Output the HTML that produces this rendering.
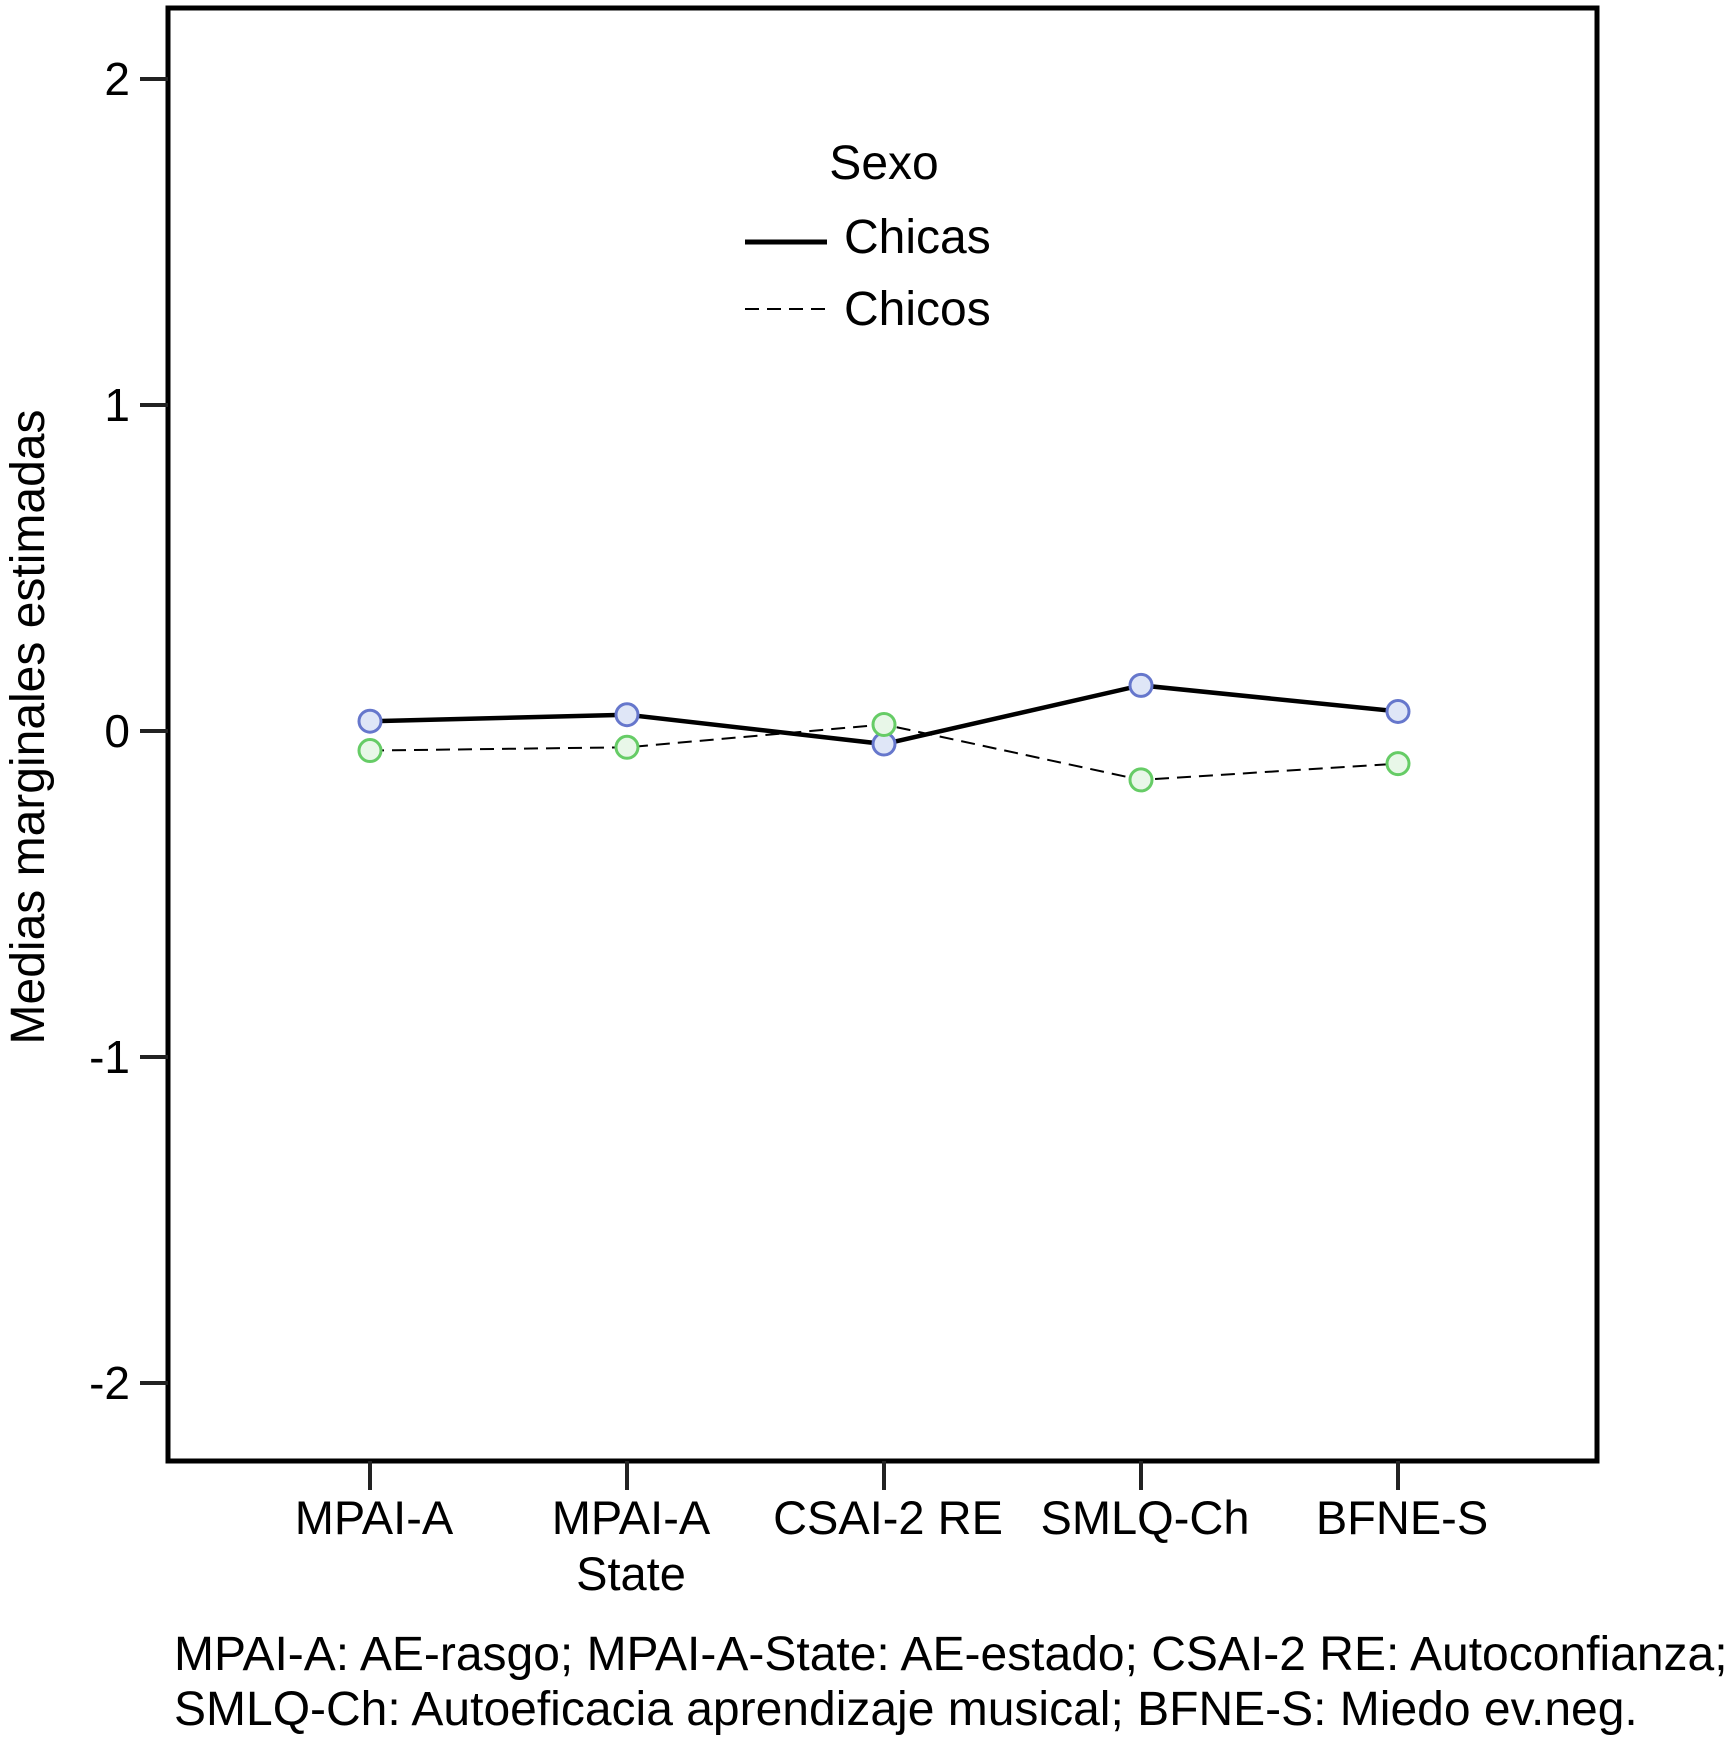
<!DOCTYPE html>
<html><head><meta charset="utf-8"><style>
html,body{margin:0;padding:0;background:#fff}
svg{display:block;font-family:"Liberation Sans",Arial,sans-serif}
</style></head><body>
<svg id="chart" width="1733" height="1740" viewBox="0 0 1733 1740" xmlns="http://www.w3.org/2000/svg">
<rect x="168" y="8" width="1429" height="1453" fill="#fff" stroke="#000" stroke-width="5"/>
<g id="yaxis"></g>
<g id="xaxis"></g>
<text transform="translate(44,727) rotate(-90)" text-anchor="middle" font-size="48">Medias marginales estimadas</text>
<g id="series"></g>
<g>
<text x="884" y="179" text-anchor="middle" font-size="48">Sexo</text>
<line x1="745" y1="242" x2="827" y2="242" stroke="#000" stroke-width="5"/>
<text x="844" y="253" font-size="48">Chicas</text>
<line x1="745" y1="309" x2="827" y2="309" stroke="#000" stroke-width="2" stroke-dasharray="14,8"/>
<text x="844" y="325" font-size="48">Chicos</text>
</g>
<text x="174" y="1670" font-size="48">MPAI-A: AE-rasgo; MPAI-A-State: AE-estado; CSAI-2 RE: Autoconfianza;</text>
<text x="174" y="1725" font-size="48">SMLQ-Ch: Autoeficacia aprendizaje musical; BFNE-S: Miedo ev.neg.</text>
</svg>
<script>
const categories = [["MPAI-A"],["MPAI-A","State"],["CSAI-2 RE"],["SMLQ-Ch"],["BFNE-S"]];
const chicas = [0.03, 0.05, -0.04, 0.14, 0.06];
const chicos = [-0.06, -0.05, 0.02, -0.15, -0.10];
const yTicks = [2, 1, 0, -1, -2];
const yTickLabels = ["2","1","0","-1","-2"];

const NS = "http://www.w3.org/2000/svg";
function yScale(v){ return 731 - v*326; }
function xScale(i){ return 370 + i*257; }
function mk(tag, attrs, parent){ const e=document.createElementNS(NS,tag); for(const k in attrs) e.setAttribute(k,attrs[k]); parent.appendChild(e); return e; }

const ya=document.getElementById('yaxis');
yTicks.forEach((t,i)=>{
  const l=mk('line',{x1:140,x2:168,y1:yScale(t),y2:yScale(t),stroke:'#222','stroke-width':4},ya);
  
  
  const tx=mk('text',{x:130,y:yScale(t)+16,'text-anchor':'end','font-size':46},ya);
  tx.textContent=yTickLabels[i];
  
  
});
const xa=document.getElementById('xaxis');
categories.forEach((c,i)=>{
  const l=mk('line',{x1:xScale(i),x2:xScale(i),y1:1461,y2:1490,stroke:'#222','stroke-width':4},xa);
  
  
  c.forEach((s,j)=>{
    const tx=mk('text',{x:xScale(i)+4,y:1534+j*56,'text-anchor':'middle','font-size':47},xa);
    tx.textContent=s;
    
    
  });
});
const sg=document.getElementById('series');
function drawSeries(vals, name, sw, dash, stroke, fill){
  const pts=vals.map((v,i)=>xScale(i)+','+yScale(v)).join(' ');
  const pl=mk('polyline',{points:pts,fill:'none',stroke:'#000','stroke-width':sw},sg);
  if(dash) pl.setAttribute('stroke-dasharray',dash);
  
  
  vals.forEach((v,i)=>{
    const c=mk('circle',{cx:xScale(i),cy:yScale(v),r:11,fill:fill,stroke:stroke,'stroke-width':3},sg);
    
    
  });
}
drawSeries(chicas,'chicas',4.5,null,'#6677cc','#dfe6f7');
drawSeries(chicos,'chicos',2,'14,8','#66cc66','#e8f7e8');
</script>
</body></html>
